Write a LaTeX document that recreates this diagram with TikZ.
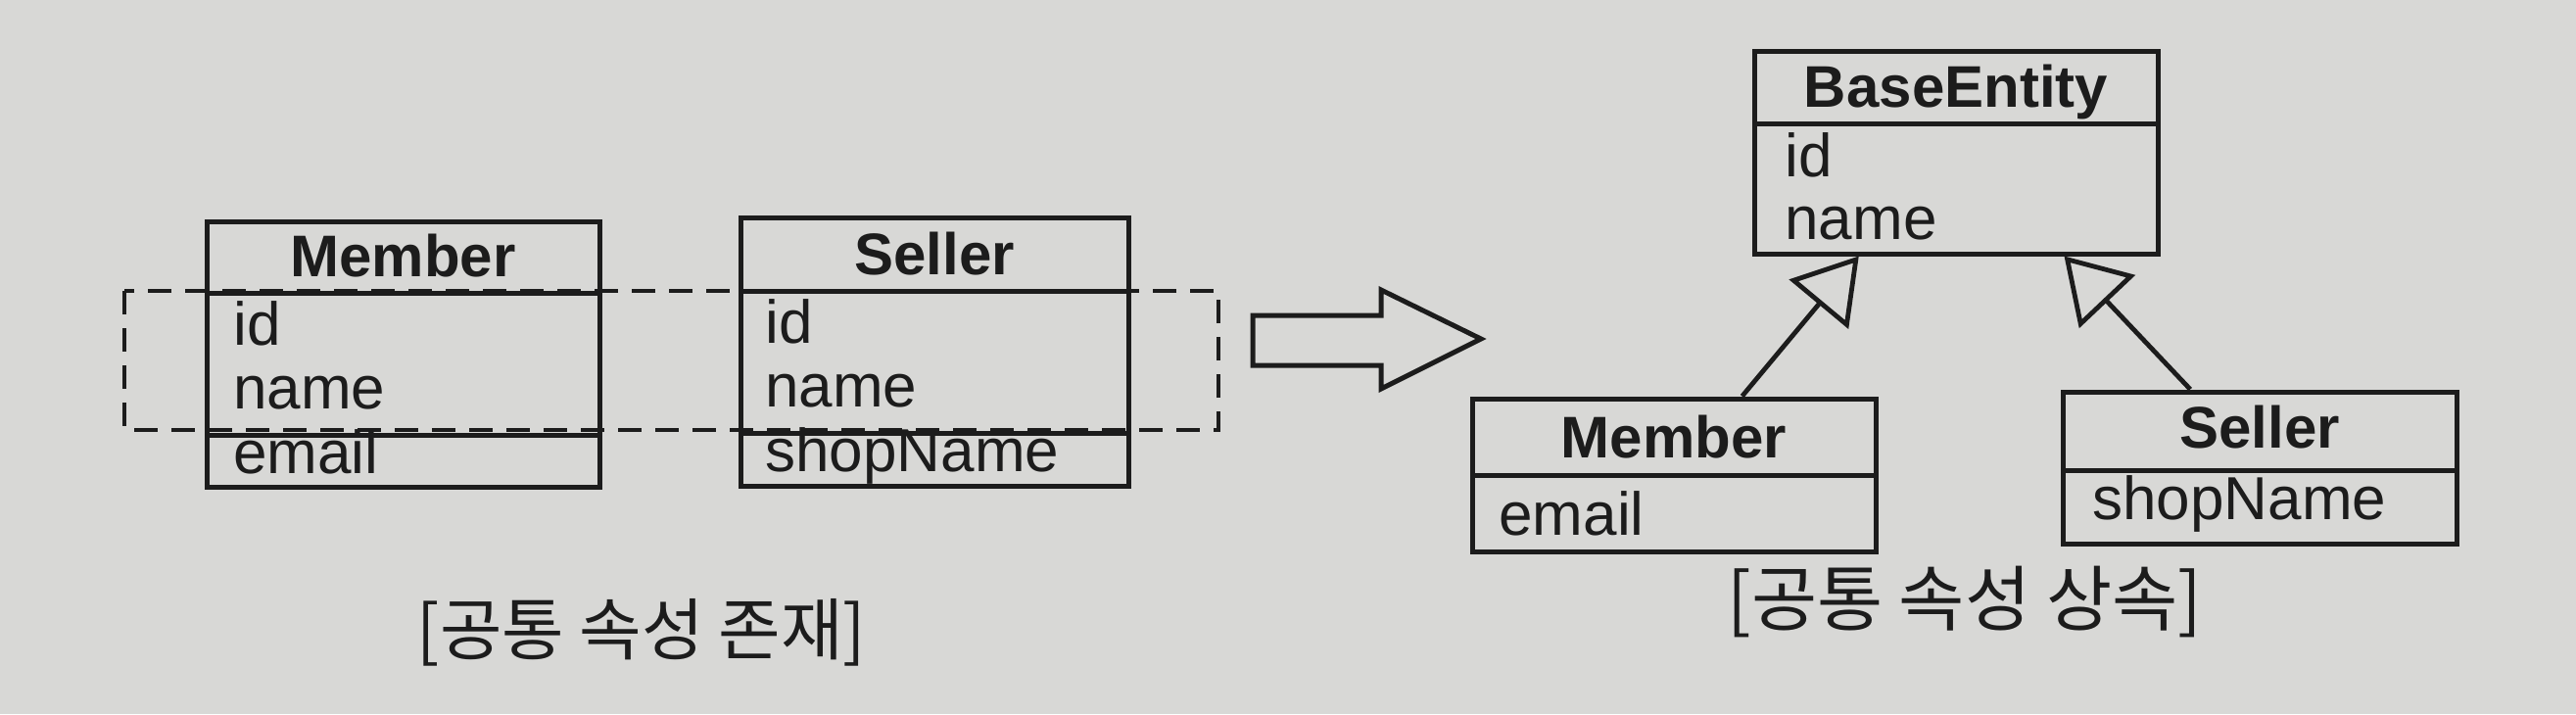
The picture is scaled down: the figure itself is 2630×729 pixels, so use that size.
\documentclass[tikz,border=0pt]{standalone}
\usepackage{fontspec}
\setmainfont{Liberation Sans}
\newfontfamily\krfont{Noto Sans CJK KR}
\usetikzlibrary{arrows.meta,calc}
\definecolor{paper}{RGB}{216,216,214}
\definecolor{ink}{RGB}{28,28,28}
\begin{document}
\begin{tikzpicture}[x=0.5pt,y=-0.5pt,
  umlbox/.style={draw=ink,line width=2.5pt,fill=paper,inner sep=0pt,rectangle},
  title/.style={font=\fontsize{30}{36}\selectfont\bfseries,text=ink,anchor=base,inner sep=0pt},
  attr/.style={font=\fontsize{31}{37}\selectfont,text=ink,anchor=base west,inner sep=0pt},
  sepline/.style={draw=ink,line width=2.5pt},
  inh/.style={draw=ink,line width=2.4pt,-{Triangle[open,length=32pt,width=39pt,line width=2.4pt]}},
  bigarrow/.style={draw=ink,line width=2.5pt,line join=miter},
  common/.style={draw=ink,line width=2.2pt,dash pattern=on 12pt off 7pt},
  caption/.style={text=ink,inner sep=0pt}
]
\fill[paper] (0,0) rectangle (2630,729);
\useasboundingbox (0,0) rectangle (2630,729);

% ---------- left: Member ----------
\node[umlbox,minimum width=200.5pt,minimum height=135.5pt] (lm) at (411.5,361.5) {};
\draw[sepline] (211,299) -- (612,299);
\draw[sepline] (211,444) -- (612,444);
\node[title] (lmt) at (411.5,282) {Member};
\node[attr] (lma) at (238,352) {id};
\node[attr] (lmb) at (238,417) {name};
\node[attr] (lmc) at (238,483) {email};

% ---------- left: Seller ----------
\node[umlbox,minimum width=198pt,minimum height=137pt] (ls) at (954,359) {};
\draw[sepline] (756,297) -- (1152,297);
\draw[sepline] (756,442) -- (1152,442);
\node[title] (lst) at (954,280) {Seller};
\node[attr] (lsa) at (781,350) {id};
\node[attr] (lsb) at (781,415) {name};
\node[attr] (lsc) at (781,481) {shopName};

% common attributes (dashed frame)
\draw[common] (127,297) rectangle (1244,439);

% ---------- big arrow ----------
\draw[bigarrow] (1279,322) -- (1410,322) -- (1410,296) -- (1512,346)
  -- (1410,397) -- (1410,373) -- (1279,373) -- cycle;

% ---------- right: BaseEntity ----------
\node[umlbox,minimum width=206pt,minimum height=103.5pt] (be) at (1997,155.5) {};
\draw[sepline] (1791,126) -- (2203,126);
\node[title] (bet) at (1997,109) {BaseEntity};
\node[attr] (bea) at (1822,180) {id};
\node[attr] (beb) at (1822,244) {name};

% ---------- right: Member ----------
\node[umlbox,minimum width=206pt,minimum height=78pt] (rm) at (1709,485) {};
\draw[sepline] (1503,485) -- (1915,485);
\node[title] (rmt) at (1709,467) {Member};
\node[attr] (rma) at (1530,546) {email};

% ---------- right: Seller ----------
\node[umlbox,minimum width=201pt,minimum height=77.5pt] (rs) at (2307,477.5) {};
\draw[sepline] (2106,480) -- (2508,480);
\node[title] (rst) at (2307,457) {Seller};
\node[attr] (rsa) at (2136,530) {shopName};

% inheritance
\draw[inh] ($(rm.north west)!0.667!(rm.north east)$) -- ($(be.south west)!0.262!(be.south east)$);
\draw[inh] ($(rs.north west)!0.326!(rs.north east)$) -- ($(be.south west)!0.765!(be.south east)$);

% captions
\node[caption,font=\krfont\fontsize{34.5}{40}\selectfont] (c1) at (655,646) {[공통 속성 존재]};
\node[caption,font=\krfont\fontsize{36.5}{42}\selectfont] (c2) at (2006,615) {[공통 속성 상속]};
\end{tikzpicture}
\end{document}
